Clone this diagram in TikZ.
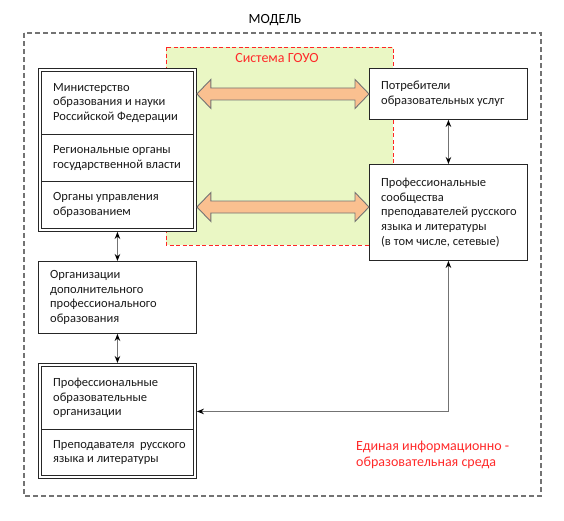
\documentclass[tikz,border=0pt]{standalone}
\usepackage{fontspec}
\setmainfont{Carlito}
\usetikzlibrary{arrows.meta,calc}
\definecolor{gouogreen}{HTML}{EAF7C4}
\definecolor{peach}{HTML}{FAC090}
\definecolor{redtxt}{HTML}{FF2A2A}
\newcommand\bigdbl[2]{%
\path[bigarrow] let \p1=(#1), \p2=(#2) in
 (\x1,\y1) -- (\x1+14pt,\y1+14.5pt) -- (\x1+14pt,\y1+6pt) -- (\x2-14pt,\y1+6pt)
 -- (\x2-14pt,\y1+14.5pt) -- (\x2,\y1) -- (\x2-14pt,\y1-14.5pt) -- (\x2-14pt,\y1-6pt)
 -- (\x1+14pt,\y1-6pt) -- (\x1+14pt,\y1-14.5pt) -- cycle;}
\begin{document}
\begin{tikzpicture}[x=1pt,y=-1pt,
  outerbox/.style={draw=black!55, dash pattern=on 5pt off 3pt, line width=1.2pt},
  gouobox/.style={fill=gouogreen, draw=red!85, dash pattern=on 4pt off 2.5pt, line width=0.8pt},
  rect/.style={draw=black!85, fill=white, line width=0.9pt, anchor=north west, inner sep=0pt},
  txt/.style={font=\fontsize{12.5}{14.7}\selectfont, align=left, inner sep=0pt, anchor=west, text=black!90},
  title/.style={font=\fontsize{14}{16.7}\selectfont, inner sep=0pt},
  redlabel/.style={font=\fontsize{14}{16.7}\selectfont, text=redtxt, inner sep=0pt, align=left},
  conn/.style={{Stealth[length=7pt,width=5.5pt,black]}-{Stealth[length=7pt,width=5.5pt,black]}, line width=1.2pt, draw=black!55},
  bigarrow/.style={fill=peach, draw=black!55, line width=0.9pt, line join=miter}
]
\useasboundingbox (0,0) rectangle (564,520);
% frames
\draw[outerbox] (24,33) rectangle (541,496);
\node[title] (model) at (275,20) {МОДЕЛЬ};
\draw[gouobox] (166,47) rectangle (393,245);
\node[redlabel] (gouo) at (277,58) {Система ГОУО};

% left group
\node[rect, minimum width=158pt, minimum height=163pt] (lb) at (38,68) {};
\node[rect, minimum width=152pt, minimum height=63pt] (m1) at (41,71) {};
\node[rect, minimum width=152pt, minimum height=47pt] (m2) at (41,134) {};
\node[rect, minimum width=152pt, minimum height=47pt] (m3) at (41,181) {};
\node[txt] (t1) at ([xshift=12pt]m1.west) {Министерство\\образования и науки\\Российской Федерации};
\node[txt] (t2) at ([xshift=12pt]m2.west) {Региональные органы\\государственной власти};
\node[txt] (t3) at ([xshift=12pt]m3.west) {Органы управления\\образованием};

% right boxes
\node[rect, minimum width=158pt, minimum height=51pt] (pot) at (369,68) {};
\node[txt] (t4) at ([xshift=12pt]pot.west) {Потребители\\образовательных услуг};
\node[rect, minimum width=158pt, minimum height=96pt] (com) at (369,164) {};
\node[txt] (t5) at ([xshift=12pt]com.west) {Профессиональные\\сообщества\\преподавателей русского\\языка и литературы\\(в том числе, сетевые)};

% organisations
\node[rect, minimum width=158pt, minimum height=72pt] (org) at (38,261) {};
\node[txt] (t6) at ([xshift=12pt]org.west) {Организации\\дополнительного\\профессионального\\образования};

% bottom group
\node[rect, minimum width=158pt, minimum height=115pt] (pb) at (38,363) {};
\node[rect, minimum width=152pt, minimum height=63pt] (p1) at (41,366) {};
\node[rect, minimum width=152pt, minimum height=46pt] (p2) at (41,429) {};
\node[txt] (t7) at ([xshift=12pt]p1.west) {Профессиональные\\образовательные\\организации};
\node[txt] (t8) at ([xshift=12pt]p2.west) {Преподавателя\ \ русского\\языка и литературы};

% big arrows
\bigdbl{lb.east |- pot.west}{pot.west}
\bigdbl{lb.east |- 0,207}{com.west |- 0,207}

% connectors
\draw[conn] (lb.south) -- (org.north);
\draw[conn] (org.south) -- (pb.north);
\draw[conn] (pot.south) -- (com.north);
\draw[conn] ([yshift=9.5pt]pb.east) -| (com.south);

% red label
\node[redlabel, anchor=west] (env) at (356,455) {Единая информационно -\\образовательная среда};
\end{tikzpicture}
\end{document}
